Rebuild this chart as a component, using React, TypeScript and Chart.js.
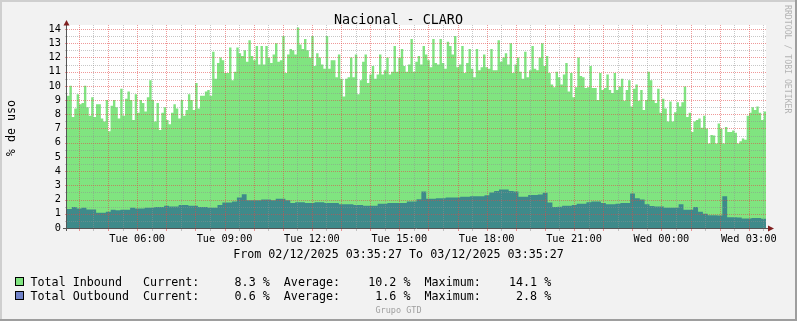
import React, { useEffect, useRef } from 'react';
import { Chart, registerables } from 'chart.js';

Chart.register(...registerables);

const TITLE = 'Nacional - CLARO';
const Y_TITLE = '% de uso';
const PERIOD_TEXT = 'From 02/12/2025 03:35:27 To 03/12/2025 03:35:27';
const FOOTER = 'Grupo GTD';
const WATERMARK = 'RRDTOOL / TOBI OETIKER';

// time axis: minutes since 02/12/2025 03:35:27, 24 hours span
const START_MINUTE = 3 * 60 + 35 + 27 / 60;
const SPAN_MINUTES = 1440;
const Y_MAX = 14.28;

const yTickValues = [0, 1, 2, 3, 4, 5, 6, 7, 8, 9, 10, 11, 12, 13, 14];
const xTickHours = [6, 9, 12, 15, 18, 21, 24, 27];
const xTickLabels = ['Tue 06:00', 'Tue 09:00', 'Tue 12:00', 'Tue 15:00', 'Tue 18:00', 'Tue 21:00', 'Wed 00:00', 'Wed 03:00'];

const seriesNames = ['Total Inbound', 'Total Outbound'];
const seriesCurrent = ['8.3', '0.6'];
const seriesAverage = ['10.2', '1.6'];
const seriesMaximum = ['14.1', '2.8'];

const GREEN = 'rgb(128,228,128)';
const TEAL = 'rgb(62,138,138)';
const LEGEND_BLUE = 'rgb(112,130,200)';

const inbound = [
  10.0, 9.3, 10.0, 7.8, 8.4, 9.4, 8.7, 8.8, 10.0, 8.5,
  7.9, 9.2, 7.8, 8.7, 8.7, 7.7, 7.5, 9.0, 6.8, 8.6,
  9.0, 8.5, 7.7, 9.8, 7.9, 9.1, 9.6, 9.0, 7.6, 9.4,
  8.1, 9.0, 8.8, 8.2, 9.2, 10.4, 9.0, 7.5, 8.8, 6.9,
  8.1, 8.5, 7.6, 7.3, 8.1, 8.7, 8.4, 7.7, 9.0, 7.9,
  8.3, 9.4, 9.0, 8.3, 10.2, 8.4, 9.3, 9.3, 9.6, 9.7,
  9.3, 12.4, 10.5, 11.6, 12.0, 11.8, 10.9, 10.9, 12.7, 10.4,
  11.0, 12.7, 12.3, 12.1,
  12.5, 11.7, 13.2, 12.1, 11.8, 12.8, 11.5, 12.8, 11.5, 12.8,
  12.0, 11.6, 12.2, 13.0, 11.7, 11.8, 13.5, 10.9, 12.2, 12.6,
  12.5, 12.2, 14.1, 12.9, 12.6, 13.3, 12.5, 12.0, 13.5, 11.4,
  12.3, 12.0, 11.5, 11.2, 13.5, 11.2, 11.8, 11.8, 10.6, 12.2,
  10.5, 9.25, 10.5, 10.6, 12.0, 10.6, 12.2, 9.4, 10.4, 11.7,
  12.2, 10.2, 10.8, 11.4, 10.5, 10.8, 12.2, 10.8, 11.1, 12.0,
  10.8, 11.0, 12.8, 11.0, 12.0, 12.6, 11.4, 11.0, 11.5, 13.3,
  11.0, 11.7, 12.1,
  11.5, 12.8, 12.2, 11.8, 11.3, 13.3, 11.6, 11.5, 13.3, 11.6,
  11.2, 13.1, 12.8, 12.2, 13.5, 11.3, 11.5, 12.8, 10.9, 11.6,
  12.6, 11.2, 10.6, 12.6, 11.1, 11.3, 12.2, 11.3, 11.2, 12.6,
  11.1, 11.1, 13.2, 11.7, 12.0, 12.3, 11.5, 13.0, 10.9, 11.5,
  12.0, 11.0, 10.5, 12.4, 10.6, 11.1, 12.8, 11.2, 11.1, 12.0,
  13.0, 11.4, 12.1, 10.9, 10.1, 9.9, 11.0, 10.6, 10.1, 10.8,
  11.6, 9.6, 10.9, 9.2, 9.9, 12.0, 10.7, 10.6, 9.85, 9.9,
  11.4, 9.85,
  9.85, 9.0, 10.9, 9.7, 9.85, 10.8, 9.7, 9.5, 10.9, 9.7,
  9.95, 10.5, 8.95, 9.7, 10.4, 8.55, 9.8, 10.1, 8.95, 9.7,
  8.3, 9.0, 11.0, 10.4, 9.0, 8.8, 9.8, 8.1, 9.1, 8.4,
  7.5, 8.9, 7.5, 8.15, 8.85, 8.55, 8.85, 9.95, 7.8, 8.1,
  6.75, 7.5, 7.6, 7.7, 7.05, 7.9, 7.0, 5.95, 6.55, 6.5,
  5.95, 7.35, 7.0, 5.95, 7.1, 6.75, 6.75, 6.85, 6.7, 5.95,
  6.1, 6.3, 6.2, 7.9, 8.1, 8.5, 8.3, 8.55, 8.1, 7.6,
  8.2,
];

const outbound = [
  1.33, 1.33, 1.48, 1.38, 1.43, 1.3, 1.3, 1.07, 1.07, 1.14,
  1.29, 1.24, 1.29, 1.29, 1.43, 1.38, 1.38, 1.43, 1.43, 1.48,
  1.48, 1.57, 1.52, 1.52, 1.62, 1.62, 1.57, 1.57, 1.48, 1.48,
  1.43, 1.43, 1.62, 1.79, 1.79, 1.86, 2.14, 2.38, 1.95, 1.95,
  1.95, 2.0, 2.0, 1.95, 2.05, 2.05, 1.95, 1.76, 1.81, 1.81,
  1.76, 1.76, 1.81, 1.81, 1.76, 1.76, 1.76, 1.67, 1.67, 1.67,
  1.62, 1.62, 1.57, 1.57, 1.57, 1.71, 1.71, 1.76, 1.76, 1.76,
  1.76, 1.86, 1.86, 2.02, 2.57, 2.05, 2.05, 2.1, 2.1, 2.14,
  2.14, 2.14, 2.19, 2.19, 2.24, 2.24, 2.24, 2.3, 2.5, 2.6,
  2.71, 2.71, 2.6, 2.57, 2.19, 2.19, 2.33, 2.33, 2.35, 2.48,
  1.79, 1.48, 1.5, 1.57, 1.57, 1.62, 1.71, 1.71, 1.81, 1.86,
  1.86, 1.76, 1.67, 1.67, 1.71, 1.76, 1.76, 2.43, 2.1, 2.0,
  1.67, 1.55, 1.52, 1.52, 1.43, 1.43, 1.43, 1.67, 1.29, 1.29,
  1.48, 1.14, 1.0, 0.9, 0.9, 0.88, 2.24, 0.76, 0.76, 0.74,
  0.67, 0.67, 0.7, 0.71, 0.65,
];

const MONO = '"DejaVu Sans Mono", monospace';
const GRID_MINOR = 'rgba(143,143,143,0.5)';
const GRID_MAJOR = 'rgba(225,70,70,0.55)';

function isWholeHour(value: number) {
  const h = (value + START_MINUTE) / 60;
  return Math.abs(h - Math.round(h)) < 1e-6;
}

function xGridValues(): number[] {
  const out: number[] = [];
  for (let h = 3; h <= 27; h++) {
    for (const m of [0, 30]) {
      const v = h * 60 + m - START_MINUTE;
      if (v > 0 && v < SPAN_MINUTES) out.push(v);
    }
  }
  return out;
}

function yGridValues(): number[] {
  const out: number[] = [];
  yTickValues.forEach((v) => {
    out.push(v);
    if (v + 0.5 <= Y_MAX) out.push(v + 0.5);
  });
  return out;
}

const rrdPlugin = {
  id: 'rrdDecor',
  beforeDraw(chart: any) {
    const { ctx, width, height, chartArea } = chart;
    ctx.save();
    ctx.fillStyle = '#f2f2f2';
    ctx.fillRect(0, 0, width, height);
    ctx.fillStyle = '#cfcfcf';
    ctx.fillRect(0, 0, width, 2);
    ctx.fillRect(0, 0, 2, height);
    ctx.fillStyle = '#9e9e9e';
    ctx.fillRect(0, height - 2, width, 2);
    ctx.fillRect(width - 2, 0, 2, height);
    ctx.fillStyle = '#ffffff';
    ctx.fillRect(chartArea.left, chartArea.top, chartArea.right - chartArea.left, chartArea.bottom - chartArea.top);
    ctx.restore();
  },
  afterDatasetsDraw(chart: any) {
    const { ctx, chartArea } = chart;
    const xs = chart.scales.x;
    const ys = chart.scales.y;
    const top = Math.round(chartArea.top);
    const bottom = Math.round(chartArea.bottom);
    const left = Math.round(chartArea.left);
    const right = Math.round(chartArea.right);
    ctx.save();
    for (const pass of [false, true]) {
      yGridValues().forEach((v) => {
        const major = Number.isInteger(v);
        if (major !== pass) return;
        const py = Math.round(ys.getPixelForValue(v));
        ctx.fillStyle = major ? GRID_MAJOR : GRID_MINOR;
        ctx.fillRect(left - 2, py, 2, 1);
        if (v === 0) return;
        for (let px = left; px < right; px += 2) ctx.fillRect(px, py, 1, 1);
      });
      xGridValues().forEach((v) => {
        const major = isWholeHour(v);
        if (major !== pass) return;
        const px = Math.round(xs.getPixelForValue(v));
        ctx.fillStyle = major ? GRID_MAJOR : GRID_MINOR;
        ctx.fillRect(px, bottom, 1, 3);
        for (let py = top; py < bottom; py += 2) ctx.fillRect(px, py, 1, 1);
      });
    }
    ctx.restore();
  },
  afterDraw(chart: any) {
    const { ctx, width, chartArea } = chart;
    const cx = width / 2;
    ctx.save();
    // axes
    ctx.strokeStyle = '#555555';
    ctx.lineWidth = 1;
    ctx.beginPath();
    ctx.moveTo(chartArea.left - 0.5, chartArea.bottom + 3);
    ctx.lineTo(chartArea.left - 0.5, chartArea.top - 3);
    ctx.moveTo(chartArea.left - 4, chartArea.bottom + 0.5);
    ctx.lineTo(chartArea.right + 4, chartArea.bottom + 0.5);
    ctx.stroke();
    ctx.fillStyle = '#801f1f';
    ctx.beginPath();
    ctx.moveTo(chartArea.left - 3.5, chartArea.top + 0.5);
    ctx.lineTo(chartArea.left + 2.5, chartArea.top + 0.5);
    ctx.lineTo(chartArea.left - 0.5, chartArea.top - 5);
    ctx.closePath();
    ctx.fill();
    ctx.beginPath();
    ctx.moveTo(chartArea.right + 2, chartArea.bottom - 2.5);
    ctx.lineTo(chartArea.right + 2, chartArea.bottom + 3.5);
    ctx.lineTo(chartArea.right + 8, chartArea.bottom + 0.5);
    ctx.closePath();
    ctx.fill();

    // title
    ctx.fillStyle = '#000000';
    ctx.textBaseline = 'alphabetic';
    ctx.textAlign = 'center';
    ctx.font = `13.4px ${MONO}`;
    ctx.fillText(TITLE, cx, 24);

    // period
    ctx.font = `11.7px ${MONO}`;
    ctx.fillText(PERIOD_TEXT, cx, 258);

    // y title
    ctx.save();
    ctx.translate(15, 128);
    ctx.rotate(-Math.PI / 2);
    ctx.textAlign = 'center';
    ctx.fillText(Y_TITLE, 0, 0);
    ctx.restore();

    // legend
    const boxColors = [GREEN, LEGEND_BLUE];
    ctx.textAlign = 'left';
    for (let i = 0; i < seriesNames.length; i++) {
      const base = 286 + i * 14;
      ctx.fillStyle = boxColors[i];
      ctx.fillRect(15, base - 9, 9, 9);
      ctx.strokeStyle = '#000000';
      ctx.strokeRect(15.5, base - 8.5, 8, 8);
      ctx.fillStyle = '#000000';
      const line =
        seriesNames[i].padEnd(16) +
        'Current:' + seriesCurrent[i].padStart(8) + ' %  ' +
        'Average:' + seriesAverage[i].padStart(8) + ' %  ' +
        'Maximum:' + seriesMaximum[i].padStart(8) + ' %';
      ctx.fillText(line, 30.5, base);
    }

    // footer
    ctx.textAlign = 'center';
    ctx.fillStyle = '#a0a0a0';
    ctx.font = `8.5px ${MONO}`;
    ctx.fillText(FOOTER, cx, 313);

    // watermark
    ctx.save();
    ctx.translate(785, 5);
    ctx.rotate(Math.PI / 2);
    ctx.textAlign = 'left';
    ctx.fillStyle = '#b4b4b4';
    ctx.font = `8.2px ${MONO}`;
    ctx.fillText(WATERMARK, 0, 0);
    ctx.restore();

    ctx.restore();
  },
};

export default function App() {
  const ref = useRef<HTMLCanvasElement | null>(null);

  useEffect(() => {
    const canvas = ref.current;
    if (!canvas) return;
    const inStep = SPAN_MINUTES / (inbound.length - 1);
    const outStep = SPAN_MINUTES / (outbound.length - 1);

    const chart = new Chart(canvas, {
      type: 'line',
      data: {
        datasets: [
          {
            label: seriesNames[0],
            data: inbound.map((v, i) => ({ x: i * inStep, y: v })),
            stepped: 'after',
            fill: 'origin',
            backgroundColor: GREEN,
            borderColor: 'rgba(0,0,0,0)',
            borderWidth: 0,
            pointRadius: 0,
            order: 2,
          },
          {
            label: seriesNames[1],
            data: outbound.map((v, i) => ({ x: i * outStep, y: v })),
            stepped: 'after',
            fill: 'origin',
            backgroundColor: TEAL,
            borderColor: 'rgba(0,0,0,0)',
            borderWidth: 0,
            pointRadius: 0,
            order: 1,
          },
        ],
      },
      options: {
        responsive: false,
        animation: false,
        devicePixelRatio: 1,
        events: [],
        layout: { padding: { left: 0, right: 31, top: 25, bottom: 73 } },
        plugins: {
          legend: { display: false },
          tooltip: { enabled: false },
          title: { display: false },
        },
        scales: {
          x: {
            type: 'linear',
            min: 0,
            max: SPAN_MINUTES,
            afterFit: (s: any) => {
              s.height = 20;
            },
            afterBuildTicks: (s: any) => {
              s.ticks = xGridValues().map((v) => ({ value: v }));
            },
            ticks: {
              autoSkip: false,
              maxRotation: 0,
              minRotation: 0,
              padding: 5,
              color: '#000000',
              font: { family: MONO, size: 10.3 },
              callback: (value: any) => {
                const v = Number(value);
                if (!isWholeHour(v)) return '';
                const h = Math.round((v + START_MINUTE) / 60);
                const idx = xTickHours.indexOf(h);
                return idx >= 0 ? xTickLabels[idx] : '';
              },
            },
            grid: { display: true, color: 'rgba(0,0,0,0)', drawTicks: false },
            border: { display: false },
          },
          y: {
            type: 'linear',
            min: 0,
            max: Y_MAX,
            afterFit: (s: any) => {
              s.width = 67;
            },
            afterBuildTicks: (s: any) => {
              s.ticks = yGridValues().map((v) => ({ value: v }));
            },
            ticks: {
              autoSkip: false,
              padding: 6,
              color: '#000000',
              font: { family: MONO, size: 10.3 },
              callback: (value: any) => (Number.isInteger(Number(value)) ? String(value) : ''),
            },
            grid: { display: true, color: 'rgba(0,0,0,0)', drawTicks: false },
            border: { display: false },
          },
        },
      } as any,
      plugins: [rrdPlugin],
    });

    return () => chart.destroy();
  }, []);

  return (
    <div style={{ position: 'fixed', left: 0, top: 0, width: 797, height: 321 }}>
      <canvas ref={ref} width={797} height={321} style={{ display: 'block', width: 797, height: 321 }} />
    </div>
  );
}
